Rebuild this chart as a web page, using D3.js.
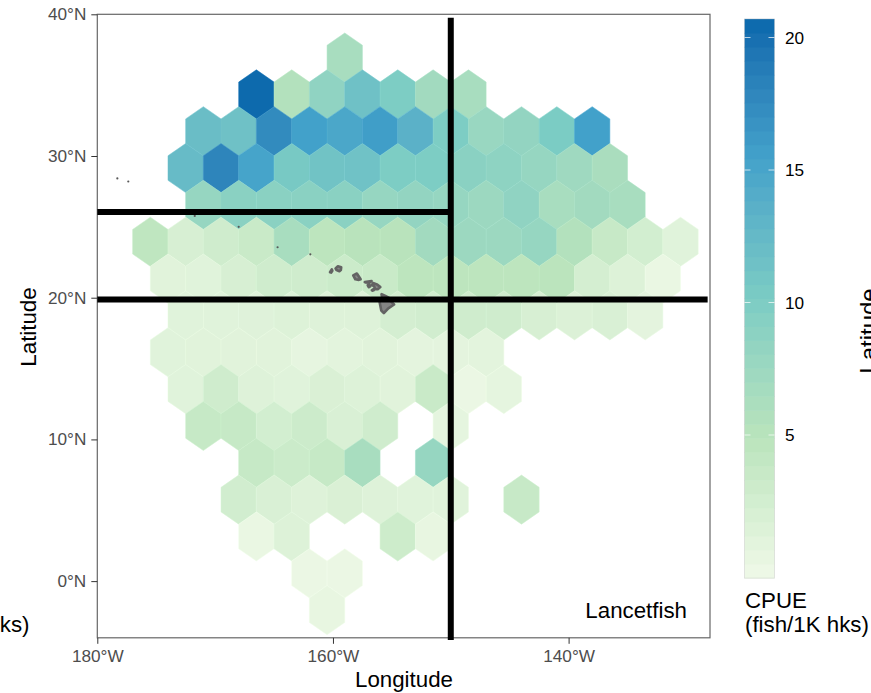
<!DOCTYPE html>
<html>
<head>
<meta charset="utf-8">
<title>Lancetfish CPUE</title>
<script src="https://cdnjs.cloudflare.com/ajax/libs/d3/7.8.5/d3.min.js"></script>
<style>
    body { margin: 0; background: #fff; }
    svg { display: block; font-family: "Liberation Sans", Arial, sans-serif; }
    .tick-label { font-size: 17.2px; fill: #4d4d4d; }
    .axis-title { font-size: 22.3px; fill: #000; }
    .legend-label { font-size: 17.2px; fill: #000; }
</style>
</head>
<body>
<div id="chart"></div>
<script>
// hex rows, top to bottom: centre latitude, longitude of first hex, CPUE per 3 degree step (null = no hex)
const rowLats = [36.95, 34.35, 31.75, 29.15, 26.55, 23.95, 21.35, 18.75, 16.15, 13.55, 10.95, 8.35, 5.75, 3.15, 0.55, -2.05];
const rowStartLons = [-159, -166.5, -171, -172.5, -171, -175.5, -174, -172.5, -174, -172.5, -171, -166.5, -168, -166.5, -162, -160.5];
const rowValues = [
    [6.5],
    [20.5, 5.5, 8.5, 11.5, 10, 7, 6.5],
    [12, 11.5, 17.5, 15.5, 14.8, 15.8, 13.5, 10, 7.8, 8.3, 10.2, 15.5],
    [12.3, 18, 15.2, 10.5, 11.3, 11.4, 10, 10, 9, 8.7, 8, 7.3, 6.3],
    [8, 9, 9, 9, 9, 8, 8.3, 8, 7.5, 8.5, 6.5, 7, 6.5],
    [4.4, 2.1, 2.8, 3.4, 6.5, 4.6, 5, 5, 7, 7.5, 7.5, 8, 5.5, 3.6, 2.5, 1.2],
    [1.1, 1.2, 2.1, 2.8, 2.8, 3.2, 3.4, 4.6, 4.6, 4.6, 4.6, 4.8, 2.3, 1.5, 0.2],
    [1.2, 1.2, 1.3, 1.5, 1.4, 1.4, 2.3, 2.6, 2.8, 2.8, 2.1, 1.6, 1.9, 0.8],
    [1.2, 1.1, 1.1, 1.1, 0.6, 0.9, 1.1, 0.8, 0.8, 0.9],
    [1.2, 2.8, 1.4, 1.2, 1.8, 1.5, 1.1, 3.4, 0.1, 0.7],
    [3.7, 3.7, 2.5, 3.1, 1.9, 2.8, null, 0.7],
    [3.7, 3.2, 3.7, 6.5, null, 8],
    [2.6, 1.9, 1.4, 1.8, 1.4, 1.2, 1.2, null, 3.6],
    [0.2, 1.5, null, null, 3, 0.4],
    [0.1, 0.1],
    [0.4]
];

const lonTicks = [-180, -160, -140];
const latTicks = [0, 10, 20, 30, 40];
const legendTicks = [5, 10, 15, 20];
const legendRange = [-0.4, 20.7];
const palette = ['#f0f9e8', '#bae4bc', '#7bccc4', '#43a2ca', '#0868ac'];

// black study area lines [lon, lat]
const areaLines = [
    [[-150, 39.75], [-150, -4.15]],
    [[-180, 19.87], [-128.2, 19.87]],
    [[-180, 26.05], [-150, 26.05]]
];

// main Hawaiian islands [lon, lat]
const islands = [
    [[-155.88, 20.25], [-155.55, 20.12], [-155.2, 19.97], [-155.08, 19.73], [-154.81, 19.52], [-155.3, 19.25], [-155.68, 18.92], [-155.9, 19.1], [-156.05, 19.73], [-155.83, 20.03]],
    [[-156.7, 20.9], [-156.6, 21.03], [-156.25, 20.94], [-155.98, 20.75], [-156.2, 20.6], [-156.43, 20.6], [-156.5, 20.8]],
    [[-157.3, 21.1], [-156.72, 21.17], [-156.9, 21.05], [-157.25, 21.08]],
    [[-157.05, 20.88], [-156.92, 20.93], [-156.82, 20.82], [-156.95, 20.74]],
    [[-156.7, 20.53], [-156.58, 20.6], [-156.54, 20.52], [-156.66, 20.5]],
    [[-158.28, 21.58], [-157.97, 21.71], [-157.65, 21.3], [-157.8, 21.26], [-158.1, 21.3]],
    [[-159.78, 22.07], [-159.58, 22.22], [-159.3, 22.15], [-159.33, 21.95], [-159.45, 21.87], [-159.7, 21.95]],
    [[-160.25, 21.8], [-160.1, 22.0], [-160.05, 21.9], [-160.15, 21.77]]
];
const islets = [[-178.3, 28.42], [-177.37, 28.2], [-171.73, 25.77], [-168, 25], [-164.7, 23.56], [-161.92, 23.06]];

const width = 871;
const height = 693;
const panel = { left: 97.3, right: 710, top: 14.3, bottom: 637.8 };

const svg = d3.select('#chart').append('svg')
    .attr('width', width)
    .attr('height', height)
    .attr('viewBox', `0 0 ${width} ${height}`);

const x = d3.scaleLinear().domain([-180, -128]).range([panel.left, panel.right]);
const y = d3.scaleLinear().domain([40, -4]).range([panel.top, panel.bottom]);

const color = d3.scaleLinear()
    .domain(d3.range(palette.length).map(i => legendRange[0] + i * (legendRange[1] - legendRange[0]) / (palette.length - 1)))
    .range(palette)
    .interpolate(d3.interpolateLab);

const hexes = rowValues.flatMap((values, row) => values
    .map((value, i) => ({ lon: rowStartLons[row] + i * 3, lat: rowLats[row], value }))
    .filter(hex => hex.value !== null));

function hexPath(hex) {
    const corners = [[0, 1.733], [1.5, 0.867], [1.5, -0.867], [0, -1.733], [-1.5, -0.867], [-1.5, 0.867]];
    return d3.line()(corners.map(c => [x(hex.lon + c[0]), y(hex.lat + c[1])])) + 'Z';
}

svg.append('g')
    .selectAll('path')
    .data(hexes)
    .join('path')
    .attr('d', hexPath)
    .attr('fill', d => color(d.value))
    .attr('stroke', d => d3.color(color(d.value)).brighter(0.08))
    .attr('stroke-width', 0.5);

const geoLine = d3.line().x(d => x(d[0])).y(d => y(d[1]));

svg.append('g')
    .selectAll('path')
    .data(islands)
    .join('path')
    .attr('d', d => geoLine(d) + 'Z')
    .attr('fill', '#858585')
    .attr('stroke', '#636363')
    .attr('stroke-width', 2.6)
    .attr('stroke-linejoin', 'round');

svg.append('g')
    .selectAll('circle')
    .data(islets)
    .join('circle')
    .attr('cx', d => x(d[0]))
    .attr('cy', d => y(d[1]))
    .attr('r', 1.1)
    .attr('fill', '#595959');

// panel border
svg.append('rect')
    .attr('x', panel.left)
    .attr('y', panel.top)
    .attr('width', panel.right - panel.left)
    .attr('height', panel.bottom - panel.top)
    .attr('fill', 'none')
    .attr('stroke', '#666')
    .attr('stroke-width', 1.2);

svg.append('g')
    .selectAll('path')
    .data(areaLines)
    .join('path')
    .attr('d', geoLine)
    .attr('fill', 'none')
    .attr('stroke', '#000')
    .attr('stroke-width', 6);

const xAxis = svg.append('g')
    .attr('transform', `translate(0,${panel.bottom})`)
    .call(d3.axisBottom(x).tickValues(lonTicks).tickSize(6).tickPadding(6).tickFormat(d => `${Math.abs(d)}°W`));
xAxis.select('.domain').remove();
xAxis.selectAll('line').attr('stroke', '#333');
xAxis.selectAll('text').attr('class', 'tick-label').attr('font-size', null).attr('font-family', null);

const yAxis = svg.append('g')
    .attr('transform', `translate(${panel.left},0)`)
    .call(d3.axisLeft(y).tickValues(latTicks).tickSize(6).tickPadding(5).tickFormat(d => `${d}°N`));
yAxis.select('.domain').remove();
yAxis.selectAll('line').attr('stroke', '#333');
yAxis.selectAll('text').attr('class', 'tick-label').attr('font-size', null).attr('font-family', null);

svg.append('text')
    .attr('class', 'axis-title')
    .attr('x', 404)
    .attr('y', 686.5)
    .attr('text-anchor', 'middle')
    .text('Longitude');

svg.append('text')
    .attr('class', 'axis-title')
    .attr('transform', 'translate(36,327) rotate(-90)')
    .attr('text-anchor', 'middle')
    .text('Latitude');

// next panel's title and the previous panel's legend are clipped by the image edges
svg.append('text')
    .attr('class', 'axis-title')
    .style('font-size', '24px')
    .attr('transform', `translate(${width + 6},331) rotate(-90)`)
    .attr('text-anchor', 'middle')
    .text('Latitude');

svg.append('text')
    .attr('class', 'axis-title')
    .attr('x', 29.5)
    .attr('y', 632)
    .attr('text-anchor', 'end')
    .text('(fish/1K hks)');

svg.append('text')
    .attr('class', 'axis-title')
    .attr('x', 687)
    .attr('y', 618)
    .attr('text-anchor', 'end')
    .text('Lancetfish');

// colour bar
const legendX = 744.5;
const legendWidth = 30;
const legendY = d3.scaleLinear().domain([5, 20]).range([435, 37.5]);
const bandCount = 40;
const bandSize = (legendRange[1] - legendRange[0]) / bandCount;
const bands = d3.range(bandCount).map(i => legendRange[0] + i * bandSize);

const legend = svg.append('g');

legend.selectAll('rect.band')
    .data(bands)
    .join('rect')
    .attr('class', 'band')
    .attr('x', legendX)
    .attr('width', legendWidth)
    .attr('y', d => legendY(d + bandSize))
    .attr('height', d => legendY(d) - legendY(d + bandSize) + 0.5)
    .attr('fill', d => color(d + bandSize / 2));

// faint rim round the bar
legend.append('rect')
    .attr('x', legendX)
    .attr('width', legendWidth)
    .attr('y', legendY(legendRange[1]))
    .attr('height', legendY(legendRange[0]) - legendY(legendRange[1]))
    .attr('fill', 'none')
    .attr('stroke', '#bbb')
    .attr('stroke-opacity', 0.45)
    .attr('stroke-width', 0.8);

legend.selectAll('line.left')
    .data(legendTicks)
    .join('line')
    .attr('class', 'left')
    .attr('x1', legendX)
    .attr('x2', legendX + 6)
    .attr('y1', d => legendY(d))
    .attr('y2', d => legendY(d))
    .attr('stroke', '#fff')
    .attr('stroke-opacity', 0.7);

legend.selectAll('line.right')
    .data(legendTicks)
    .join('line')
    .attr('class', 'right')
    .attr('x1', legendX + legendWidth - 6)
    .attr('x2', legendX + legendWidth)
    .attr('y1', d => legendY(d))
    .attr('y2', d => legendY(d))
    .attr('stroke', '#fff')
    .attr('stroke-opacity', 0.7);

legend.selectAll('text.legend-label')
    .data(legendTicks)
    .join('text')
    .attr('class', 'legend-label')
    .attr('x', 785)
    .attr('y', d => legendY(d) + 6.3)
    .text(d => d);

svg.append('text')
    .attr('class', 'axis-title')
    .attr('x', 745)
    .attr('y', 607.5)
    .text('CPUE');

svg.append('text')
    .attr('class', 'axis-title')
    .attr('x', 745)
    .attr('y', 632)
    .text('(fish/1K hks)');
</script>
</body>
</html>
